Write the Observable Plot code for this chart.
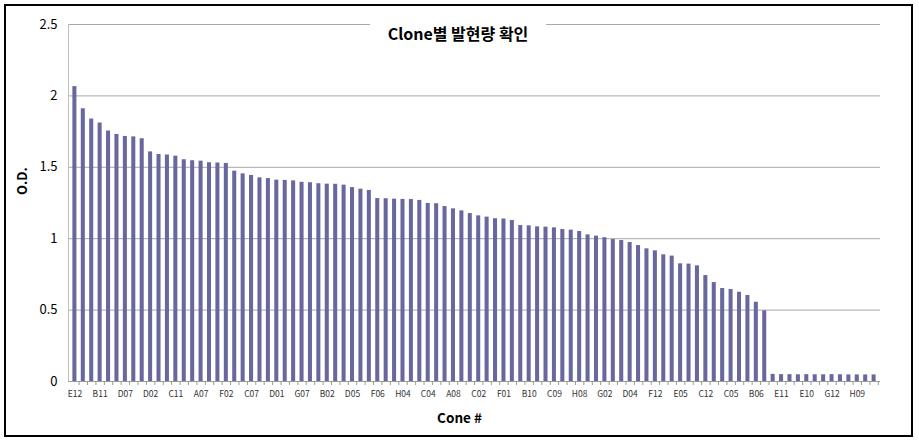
<!DOCTYPE html>
<html><head><meta charset="utf-8">
<script src="https://cdn.jsdelivr.net/npm/d3@7"></script>
<script src="https://cdn.jsdelivr.net/npm/@observablehq/plot@0.6"></script>
<style>
body{margin:0;background:#fff;font-family:"Noto Sans CJK KR",sans-serif}
#wrap{position:relative;width:919px;height:441px;overflow:hidden}
#wrap svg{position:absolute;left:0;top:0}
#frame{position:absolute;left:4px;top:4px;width:905px;height:429px;border:2px solid #000;pointer-events:none}
#title{position:absolute;left:370px;top:20px;width:176px;text-align:center;background:#fff;font-weight:bold;font-size:16px;line-height:26px;color:#000}
</style></head><body>
<div id="wrap"><div id="title">Clone별 발현량 확인</div><div id="frame"></div></div>
<script>
// Visible category labels (every 3rd clone)
const visibleLabels = ["E12","B11","D07","D02","C11","A07","F02","C07","D01","G07","B02","D05","F06","H04","C04","A08","C02","F01","B10","C09","H08","G02","D04","F12","E05","C12","C05","B06","E11","E10","G12","H09"];
// O.D. values, sorted descending, 96 clones
const odValues = [
  2.065,1.91,1.838,1.81,1.754,1.73,1.716,1.713,1.70,1.608,
  1.59,1.586,1.578,1.553,1.546,1.543,1.532,1.53,1.527,1.473,
  1.454,1.443,1.426,1.421,1.41,1.408,1.405,1.395,1.392,1.385,
  1.382,1.381,1.375,1.358,1.347,1.338,1.281,1.28,1.277,1.275,
  1.274,1.268,1.247,1.245,1.225,1.209,1.195,1.176,1.16,1.151,
  1.14,1.138,1.127,1.092,1.09,1.083,1.081,1.076,1.064,1.06,
  1.05,1.027,1.018,1.007,0.994,0.987,0.973,0.952,0.929,0.915,
  0.887,0.878,0.824,0.822,0.81,0.742,0.693,0.651,0.644,0.625,
  0.602,0.555,0.495,0.05,0.048,0.048,0.047,0.048,0.047,0.047,
  0.048,0.047,0.046,0.046,0.046,0.046
];
const yTicks = [0,0.5,1,1.5,2,2.5];
const yTitle = "O.D.";
const xTitle = "Cone #";

const idx = d3.range(odValues.length);
const labelIdx = idx.filter(i => i % 3 === 0);
const step = (919 - 68 - 39) / idx.length;

const chart = Plot.plot({
  width: 919, height: 441,
  marginLeft: 68, marginRight: 39, marginTop: 24, marginBottom: 60,
  style: {fontFamily: '"Noto Sans CJK KR", sans-serif', background: "transparent", color: "#000"},
  x: {type: "band", domain: idx, padding: 0.52, align: 0.5},
  y: {domain: [0, 2.5]},
  marks: [
    Plot.gridY(yTicks, {stroke: "#a8a8a8", strokeOpacity: 1}),
    Plot.frame({anchor: "left", stroke: "#c0c0c0"}),
    Plot.barY(idx, {x: d => d, y: d => odValues[d], fill: "#68689e"}),
    Plot.ruleY([0], {stroke: "#9a9a9a"}),
    Plot.axisY(yTicks, {tickSize: 0, tickPadding: 11, fontSize: 13, label: null, tickFormat: d => String(d)}),
    Plot.axisX(idx, {tickSize: 4, tickFormat: () => "", dx: step / 2, stroke: "#9a9a9a", label: null}),
    Plot.axisX(labelIdx, {tickSize: 0, tickPadding: 9, fontSize: 8.5, fill: "#333", tickFormat: i => visibleLabels[i / 3], label: null}),
    Plot.text([yTitle], {text: d => d, frameAnchor: "left", dx: -46, dy: -8, rotate: -90, fontWeight: "bold", fontSize: 13}),
    Plot.text([xTitle], {text: d => d, frameAnchor: "bottom", dx: -15, dy: 41, fontWeight: "bold", fontSize: 13.5})
  ]
});
const wrap = document.getElementById("wrap");
wrap.insertBefore(chart, wrap.firstChild);
</script>
</body></html>
